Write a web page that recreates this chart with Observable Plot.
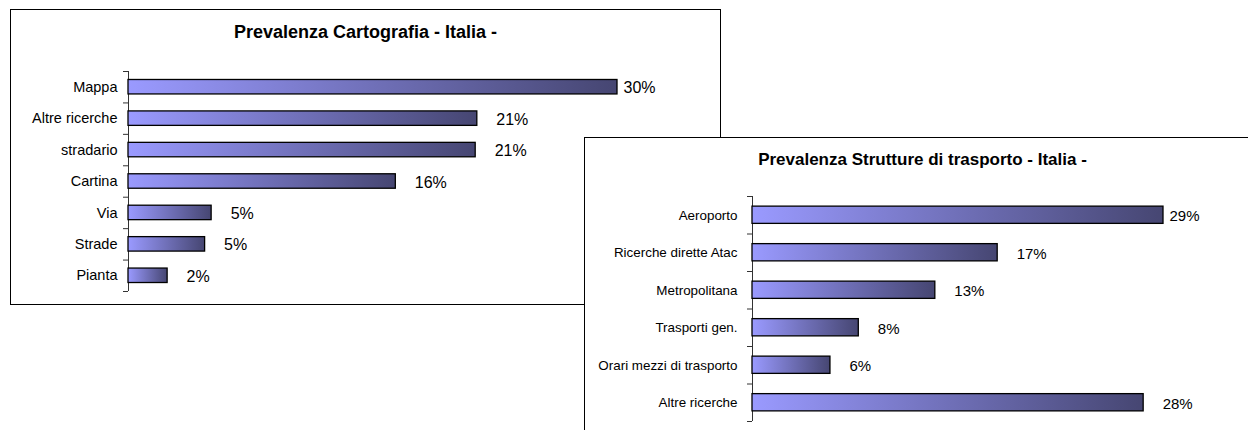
<!DOCTYPE html>
<html>
<head>
<meta charset="utf-8">
<script src="https://cdn.jsdelivr.net/npm/d3@7"></script>
<script src="https://cdn.jsdelivr.net/npm/@observablehq/plot@0.6"></script>
<style>
  html, body { margin: 0; padding: 0; background: #fff; width: 1248px; height: 430px; overflow: hidden; position: relative; }
  .box { position: absolute; border: 1px solid #000; background: #fff; overflow: hidden; }
  .title { position: absolute; left: 0; width: 100%; text-align: center; font-family: "Liberation Sans", Arial, sans-serif; font-weight: bold; color: #000; white-space: nowrap; }
  svg.plot { position: absolute; left: 0; top: 0; }
</style>
</head>
<body>
<svg width="0" height="0" style="position:absolute">
  <defs>
    <linearGradient id="barGrad" x1="0" y1="0" x2="1" y2="0">
      <stop offset="0" stop-color="#9a9aff"/>
      <stop offset="1" stop-color="#464672"/>
    </linearGradient>
  </defs>
</svg>

<div class="box" id="box1" style="left:10px; top:9px; width:709px; height:294px;">
  <div class="title" id="title1" style="top:13px; font-size:18px; line-height:18px;"></div>
</div>
<div class="box" id="box2" style="left:584px; top:137px; width:675px; height:300px;">
  <div class="title" id="title2" style="top:13px; font-size:17px; line-height:17px;"></div>
</div>

<script>
// ---- Chart 1: Prevalenza Cartografia - Italia -
const title1 = "Prevalenza Cartografia - Italia -";
const categories1 = ["Mappa", "Altre ricerche", "stradario", "Cartina", "Via", "Strade", "Pianta"];
const values1 = [30.0, 21.4, 21.3, 16.4, 5.1, 4.7, 2.4];

// ---- Chart 2: Prevalenza Strutture di trasporto - Italia -
const title2 = "Prevalenza Strutture di trasporto - Italia -";
const categories2 = ["Aeroporto", "Ricerche dirette Atac", "Metropolitana", "Trasporti gen.", "Orari mezzi di trasporto", "Altre ricerche"];
const values2 = [29.0, 17.3, 12.9, 7.5, 5.5, 27.6];

const FONT = "'Liberation Sans', Arial, sans-serif";
const PAD = 0.27;

function makeChart(cfg) {
  const {cats, vals, width, height, marginLeft, marginRight, marginTop, marginBottom,
         xMax, catFont, valFont, catPad, tickSize} = cfg;
  const n = cats.length;
  const rows = cats.map((c, i) => ({cat: c, value: vals[i], i}));
  const lab = d => Math.round(d.value) + "%";
  return Plot.plot({
    width, height, marginLeft, marginRight, marginTop, marginBottom,
    style: {fontFamily: FONT, fontSize: catFont + "px", background: "transparent", color: "#000"},
    x: {domain: [0, xMax], axis: null},
    y: {domain: [0, n], reverse: true, axis: null},
    marks: [
      Plot.axisY({ticks: d3.range(n + 1), tickSize, tickFormat: () => "", stroke: "#333", label: null}),
      Plot.axisY({ticks: d3.range(n).map(i => i + 0.5), tickSize: 0, tickPadding: catPad,
                  tickFormat: t => cats[Math.floor(t)], fill: "#000", label: null}),
      Plot.ruleX([0], {y1: 0, y2: n, stroke: "#333", strokeWidth: 1}),
      Plot.rect(rows, {x1: 0, x2: "value", y1: d => d.i + PAD, y2: d => d.i + 1 - PAD,
                       fill: "url(#barGrad)", stroke: "#000", strokeWidth: 1.3}),
      Plot.text(rows.slice(0, 1), {x: "value", y: d => d.i + 0.5, text: lab, dx: 6, dy: 1,
                       textAnchor: "start", fontSize: valFont, fill: "#000"}),
      Plot.text(rows.slice(1), {x: "value", y: d => d.i + 0.5, text: lab, dx: 19, dy: 1,
                       textAnchor: "start", fontSize: valFont, fill: "#000"})
    ]
  });
}

document.getElementById("title1").textContent = title1;
document.getElementById("title2").textContent = title2;

const p1 = makeChart({cats: categories1, vals: values1, width: 709, height: 294,
  marginLeft: 117, marginRight: 103, marginTop: 61, marginBottom: 13,
  xMax: 30, catFont: 14.5, valFont: 16, catPad: 11, tickSize: 5});
p1.classList.add("plot");
document.getElementById("box1").appendChild(p1);

const p2 = makeChart({cats: categories2, vals: values2, width: 675, height: 300,
  marginLeft: 167, marginRight: 97, marginTop: 58, marginBottom: 17,
  xMax: 29, catFont: 13.4, valFont: 15, catPad: 15, tickSize: 5});
p2.classList.add("plot");
document.getElementById("box2").appendChild(p2);
</script>
</body>
</html>
